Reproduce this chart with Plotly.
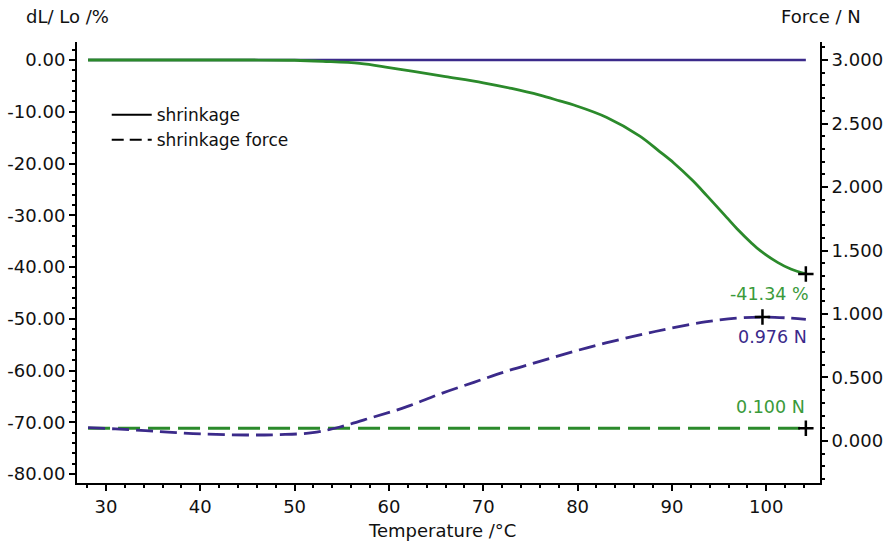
import plotly.graph_objects as go

# ---- data ----
temp_shrink = [28.1, 35, 40, 45, 50, 53, 56.9, 60, 62.6, 66, 70, 73, 76.0, 78.1, 79.6, 83.1, 86.6,
               88.7, 90.2, 92.2, 93.7, 95.8, 96.9, 98.4, 99.4, 101.2, 102.6, 104.2]
shrinkage = [0, 0, 0, 0, -0.05, -0.25, -0.64, -1.45, -2.2, -3.2, -4.4, -5.5, -6.8, -7.9, -8.7,
             -11.1, -14.7, -17.7, -19.9, -23.3, -26.2, -30.4, -32.6, -35.3, -36.9, -39.1, -40.4, -41.34]

temp_force = [28.1, 31, 34.2, 37, 40.2, 44.9, 48.4, 51.9, 54.8, 58.3, 61.9, 65.4, 69.0, 72.5, 76,
              79.5, 83, 86.6, 90, 93.7, 97, 99.6, 102, 104.2]
force = [0.105, 0.095, 0.081, 0.068, 0.055, 0.047, 0.05, 0.065, 0.11, 0.187, 0.27, 0.37, 0.462,
         0.55, 0.627, 0.703, 0.772, 0.835, 0.89, 0.94, 0.968, 0.976, 0.97, 0.958]

temp_span = [28.1, 104.2]
baseline_pct = [0, 0]
threshold_force = [0.1, 0.1]

marker_shrink = (104.2, -41.34)
marker_peak = (99.6, 0.976)
marker_thresh = (104.2, 0.100)

left_ticks = [0, -10, -20, -30, -40, -50, -60, -70, -80]
left_text = ["0.00", "-10.00", "-20.00", "-30.00", "-40.00", "-50.00", "-60.00", "-70.00", "-80.00"]
right_ticks = [0, 0.5, 1.0, 1.5, 2.0, 2.5, 3.0]
right_text = ["0.000", "0.500", "1.000", "1.500", "2.000", "2.500", "3.000"]
x_ticks = [30, 40, 50, 60, 70, 80, 90, 100]

GREEN = "#2b8a2b"
GREEN_T = "#3a9a3a"
BLUE = "#3b2a8a"
FONT = "DejaVu Sans"
TXT = "#111111"

fig = go.Figure()

fig.add_trace(go.Scatter(x=temp_span, y=baseline_pct, mode="lines",
                         line=dict(color=BLUE, width=2.5), showlegend=False, hoverinfo="skip"))
fig.add_trace(go.Scatter(x=temp_shrink, y=shrinkage, mode="lines", line_shape="spline",
                         line=dict(color=GREEN, width=2.8, smoothing=1.0), showlegend=False))
fig.add_trace(go.Scatter(x=temp_span, y=threshold_force, mode="lines", yaxis="y2",
                         line=dict(color=GREEN, width=2.8, dash="22px,8px"), showlegend=False))
fig.add_trace(go.Scatter(x=temp_force, y=force, mode="lines", line_shape="spline", yaxis="y2",
                         line=dict(color=BLUE, width=2.8, dash="17px,7px", smoothing=1.0),
                         showlegend=False))

# markers
mk = dict(symbol="cross-thin", size=11, line=dict(color="black", width=2.5))
fig.add_trace(go.Scatter(x=[marker_shrink[0]], y=[marker_shrink[1]], mode="markers",
                         marker=mk, showlegend=False))
fig.add_trace(go.Scatter(x=[marker_peak[0], marker_thresh[0]], y=[marker_peak[1], marker_thresh[1]],
                         mode="markers", yaxis="y2", marker=mk, showlegend=False))

# legend entries
fig.add_trace(go.Scatter(x=[None], y=[None], mode="lines", name="shrinkage",
                         line=dict(color="black", width=2)))
fig.add_trace(go.Scatter(x=[None], y=[None], mode="lines", name="shrinkage force",
                         line=dict(color="black", width=2, dash="12px,6px")))

AF = 17.5
fig.add_annotation(x=marker_shrink[0], y=marker_shrink[1], text=f"{marker_shrink[1]:.2f} %",
                   showarrow=False, xanchor="right", yanchor="middle", xshift=5, yshift=-20,
                   font=dict(color=GREEN_T, size=AF, family=FONT))
fig.add_annotation(x=marker_peak[0], y=marker_peak[1], xref="x", yref="y2",
                   text=f"{marker_peak[1]:.3f} N", showarrow=False, xanchor="right",
                   yanchor="middle", xshift=47, yshift=-20,
                   font=dict(color=BLUE, size=AF, family=FONT))
fig.add_annotation(x=marker_thresh[0], y=marker_thresh[1], xref="x", yref="y2",
                   text=f"{marker_thresh[1]:.3f} N", showarrow=False, xanchor="right",
                   yanchor="middle", xshift=1, yshift=21,
                   font=dict(color=GREEN_T, size=AF, family=FONT))

# axis titles
fig.add_annotation(x=-0.071, y=1.057, xref="paper", yref="paper", text="dL/ Lo /%", showarrow=False,
                   xanchor="left", yanchor="middle", font=dict(size=18, family=FONT, color=TXT))
fig.add_annotation(x=1.058, y=1.057, xref="paper", yref="paper", text="Force / N", showarrow=False,
                   xanchor="right", yanchor="middle", font=dict(size=18, family=FONT, color=TXT))
fig.add_annotation(x=0.4913, y=-0.1066, xref="paper", yref="paper", text="Temperature /°C",
                   showarrow=False, xanchor="center", yanchor="middle",
                   font=dict(size=18, family=FONT, color=TXT))

TF = 18
axis_common = dict(showgrid=False, zeroline=False, showline=True, linecolor="black", linewidth=2,
                   ticks="outside", ticklen=6, tickwidth=2, tickcolor="black", automargin=False,
                   tickfont=dict(size=TF, family=FONT, color=TXT))
minor_common = dict(ticks="outside", ticklen=3, tickwidth=1.5, tickcolor="black")

fig.update_layout(
    width=883, height=543,
    margin=dict(l=77, r=63, t=42, b=60),
    paper_bgcolor="white", plot_bgcolor="white",
    font=dict(family=FONT, size=16, color=TXT),
    xaxis=dict(range=[26.93, 105.7], tickvals=x_ticks,
               minor=dict(dtick=2, tick0=0, **minor_common), **axis_common),
    yaxis=dict(range=[-81.74, 3.48], tickvals=left_ticks, ticktext=left_text,
               minor=dict(dtick=2, tick0=0, **minor_common), **axis_common),
    yaxis2=dict(range=[-0.331, 3.142], tickvals=right_ticks, ticktext=right_text, overlaying="y",
                side="right", minor=dict(dtick=0.1, tick0=0, **minor_common), **axis_common),
    legend=dict(x=0.04, y=0.875, xanchor="left", yanchor="top", bgcolor="rgba(0,0,0,0)",
                font=dict(size=17, family=FONT, color=TXT), itemwidth=40, tracegroupgap=0),
    showlegend=True,
)

fig.write_html("out.html")
